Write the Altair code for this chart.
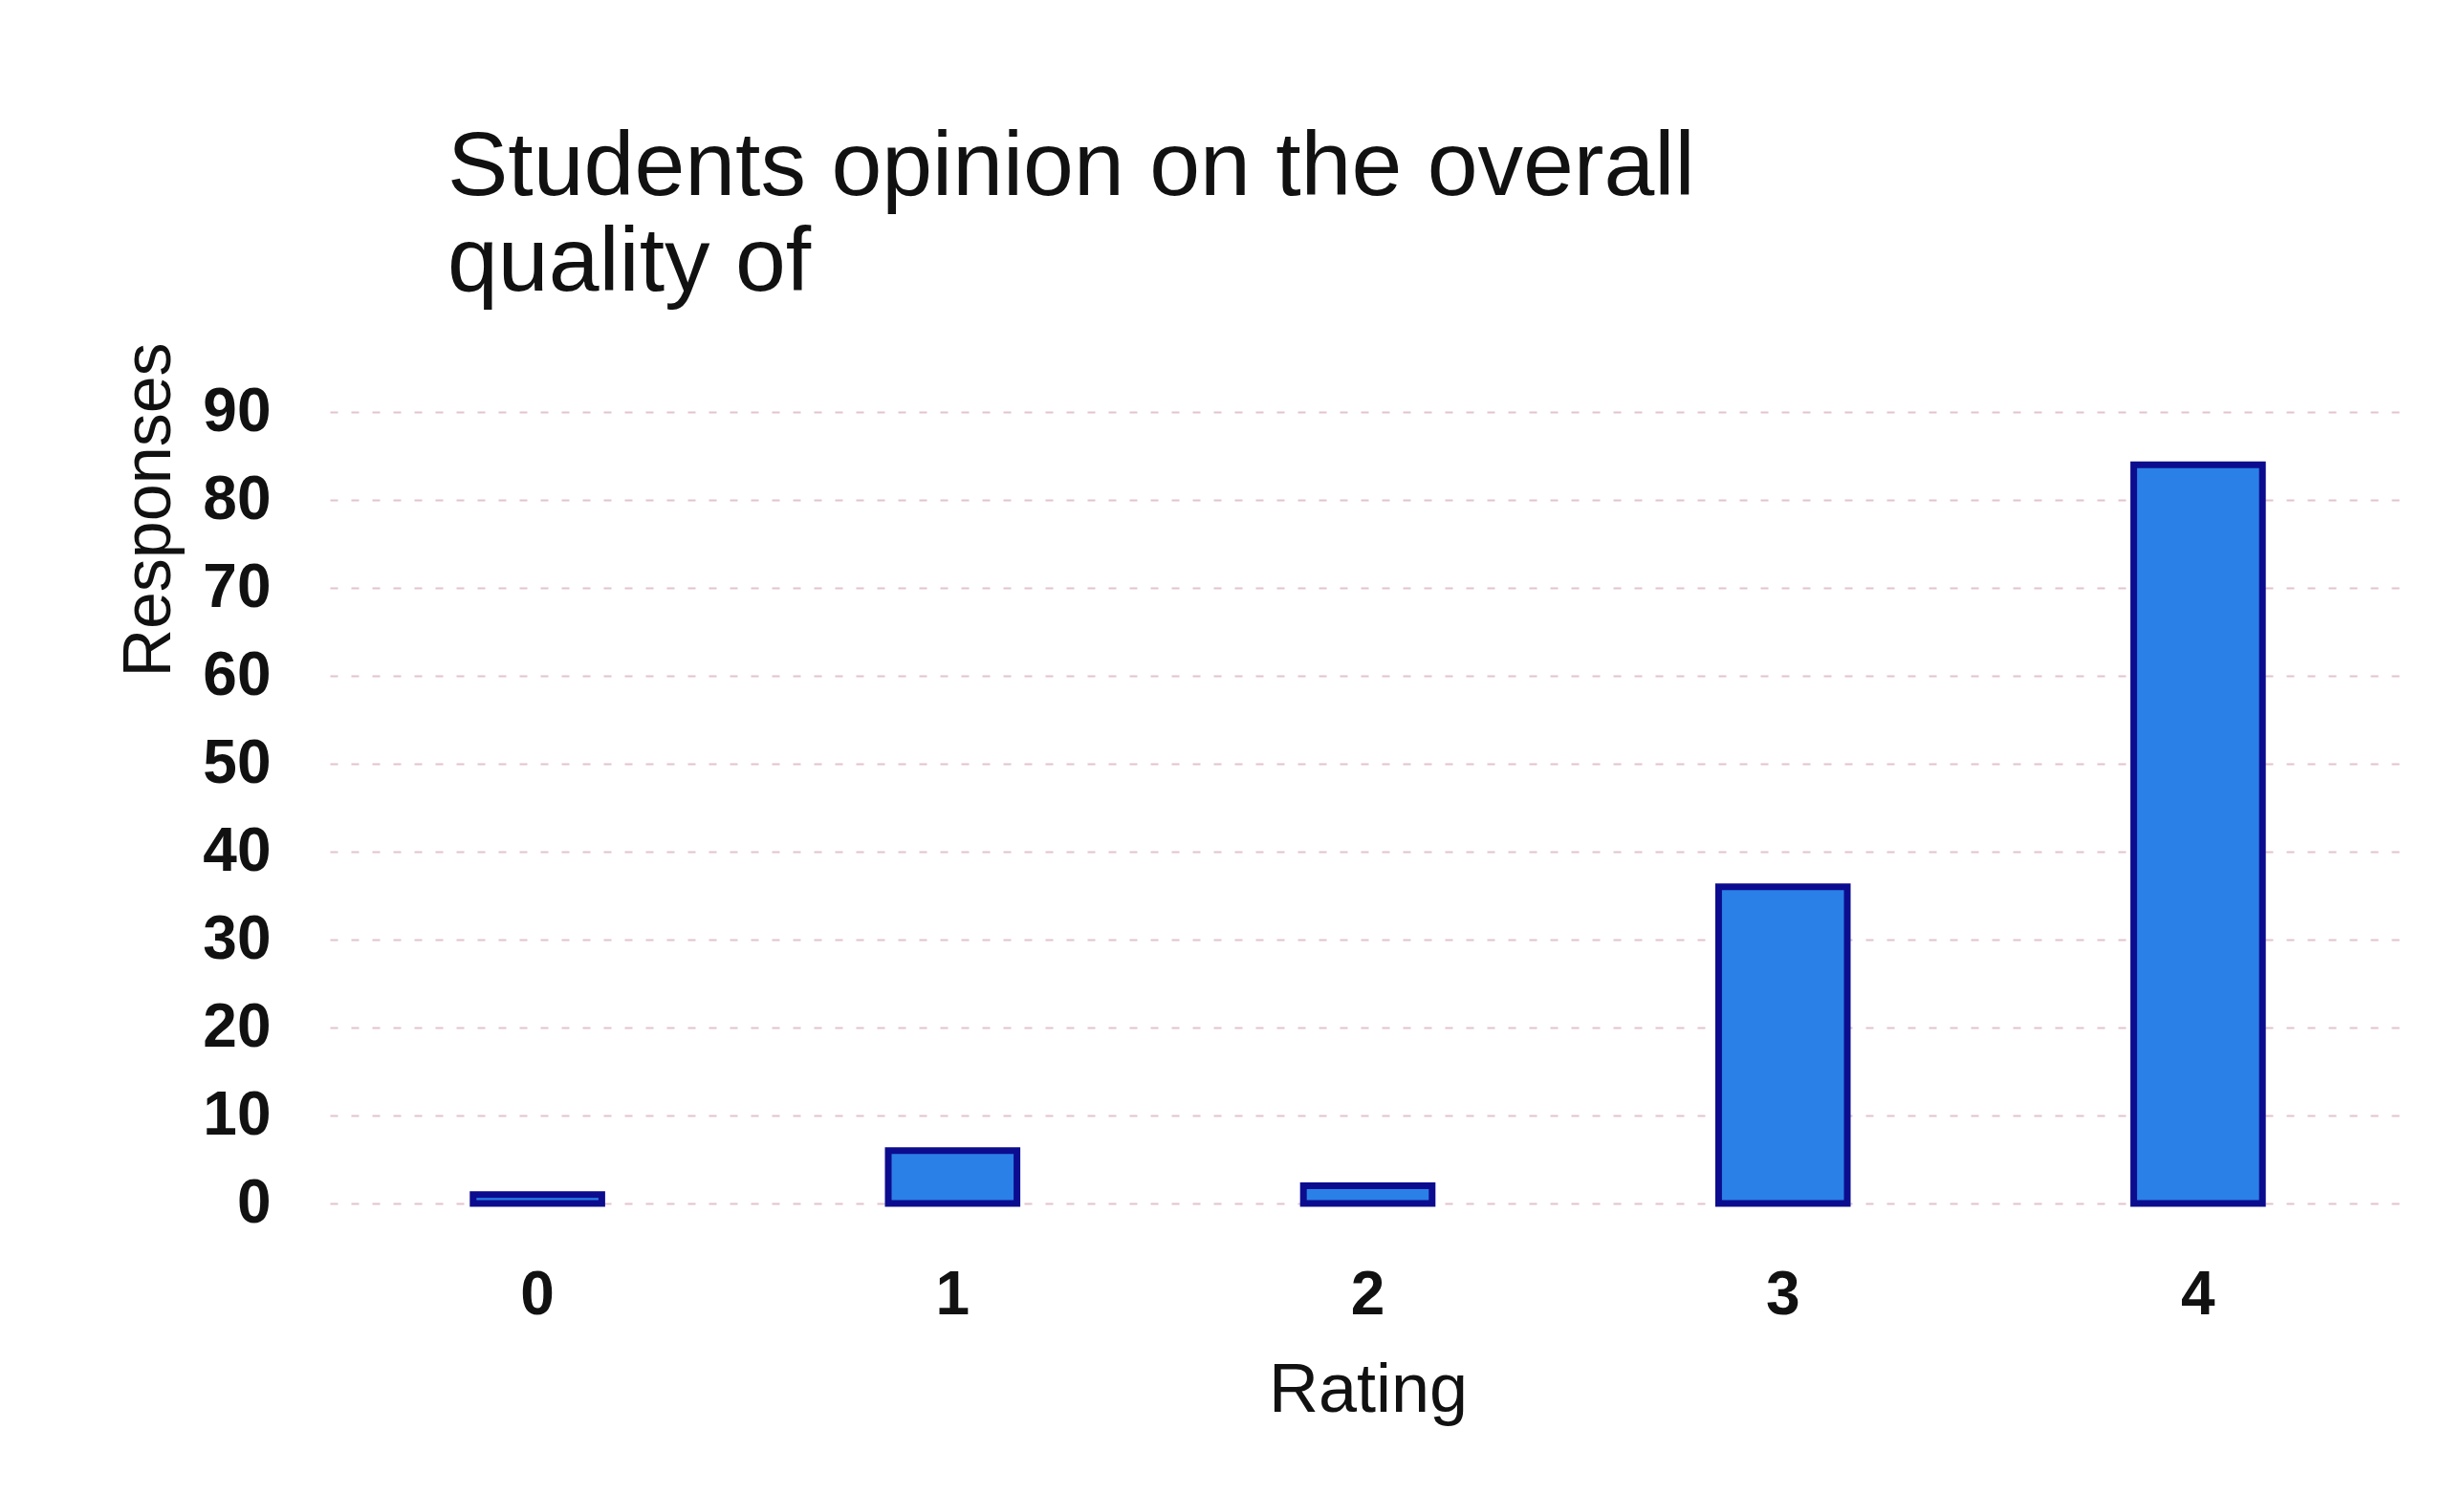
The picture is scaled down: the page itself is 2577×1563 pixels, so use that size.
import altair as alt
import pandas as pd

ratings = ["0", "1", "2", "3", "4"]
responses = [1, 6, 2, 36, 84]
title_lines = ["Students opinion on the overall", "quality of"]
y_ticks = [0, 10, 20, 30, 40, 50, 60, 70, 80, 90]

df = pd.DataFrame({"Rating": ratings, "Responses": responses})

FONT = "Liberation Sans"

chart = (
    alt.Chart(df)
    .mark_bar(fill="#2a80e6", stroke="#0c0c8f", strokeWidth=7)
    .encode(
        x=alt.X(
            "Rating:N",
            sort=ratings,
            scale=alt.Scale(paddingInner=0.69, paddingOuter=0.345),
            axis=alt.Axis(
                title="Rating",
                labelAngle=0,
                labelFont=FONT,
                labelFontSize=64,
                labelFontWeight="bold",
                labelColor="#111111",
                labelPadding=64,
                ticks=False,
                domain=False,
                grid=False,
                titleFont=FONT,
                titleFontSize=72,
                titleFontWeight="normal",
                titleColor="#111111",
                titleBaseline="alphabetic",
                titleY=217,
            ),
        ),
        y=alt.Y(
            "Responses:Q",
            scale=alt.Scale(domain=[0, 90], nice=False),
            axis=alt.Axis(
                title="Responses",
                values=y_ticks,
                labelFont=FONT,
                labelFontSize=64,
                labelFontWeight="bold",
                labelColor="#111111",
                labelPadding=62,
                ticks=False,
                domain=False,
                grid=True,
                gridColor="#e2c4cc",
                gridWidth=2,
                gridDash=[8, 14],
                titleFont=FONT,
                titleFontSize=70,
                titleFontWeight="normal",
                titleColor="#111111",
                titleAngle=270,
                titleAlign="center",
                titleBaseline="middle",
                titleX=-189,
                titleY=102,
            ),
        ),
    )
    .properties(
        width=2171,
        height=828,
        title=alt.TitleParams(
            text=title_lines,
            font=FONT,
            fontSize=95,
            fontWeight="normal",
            color="#111111",
            anchor="start",
            frame="group",
            dx=123,
            dy=66,
            lineHeight=100,
            offset=100,
        ),
        padding={"left": 337, "top": 423, "right": 50, "bottom": 250},
        autosize=alt.AutoSizeParams(type="none"),
        background="white",
    )
    .configure_view(stroke=None)
)

chart.save("out.html", embed_options={"renderer": "svg", "actions": False})
